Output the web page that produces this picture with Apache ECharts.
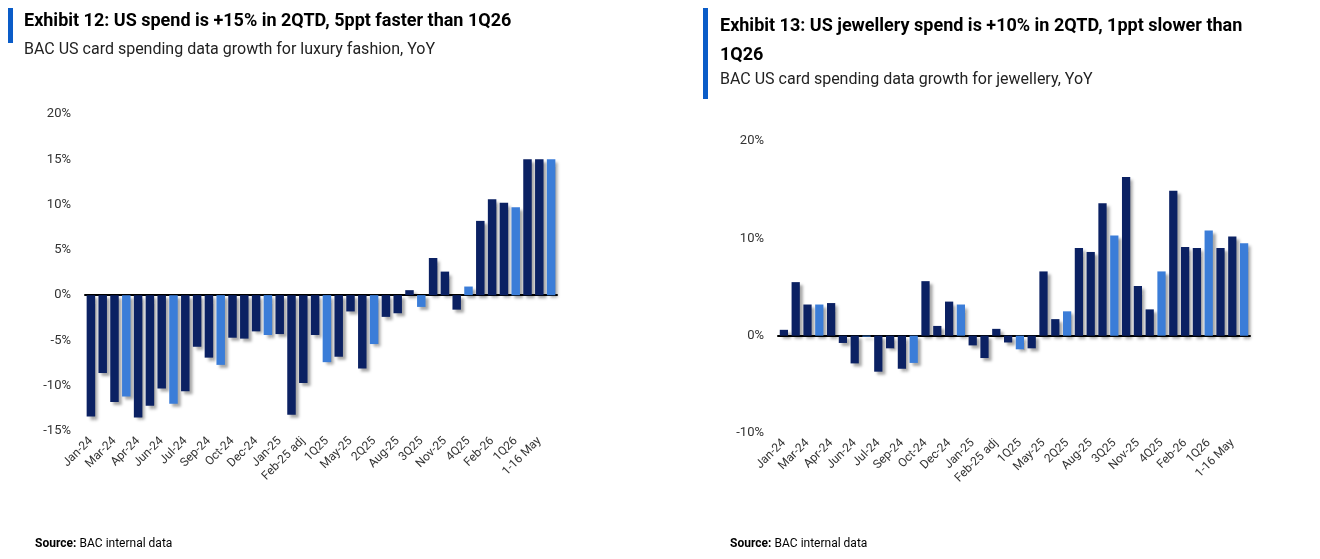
<!DOCTYPE html>
<html>
<head>
<meta charset="utf-8">
<script src="https://cdn.jsdelivr.net/npm/echarts@6/dist/echarts.min.js"></script>
<style>
html, body { margin: 0; padding: 0; background: #fff; }
#main { width: 1320px; height: 559px; }
</style>
</head>
<body>
<div id="main"></div>
<script>
var categories = ["Jan-24", "Feb-24", "Mar-24", "1Q24", "Apr-24", "May-24", "Jun-24", "2Q24",
    "Jul-24", "Aug-24", "Sep-24", "3Q24", "Oct-24", "Nov-24", "Dec-24", "4Q24",
    "Jan-25", "Feb-25", "Feb-25 adj", "Mar-25", "1Q25", "Apr-25", "May-25", "Jun-25", "2Q25",
    "Jul-25", "Aug-25", "Sep-25", "3Q25", "Oct-25", "Nov-25", "Dec-25", "4Q25",
    "Jan-26", "Feb-26", "Mar-26", "1Q26", "Apr-26", "1-16 May", "2QTD"];
// quarterly bars are drawn in the lighter blue
var isQuarter = [0,0,0,1,0,0,0,1, 0,0,0,1,0,0,0,1, 0,0,0,0,1,0,0,0,1, 0,0,0,1,0,0,0,1, 0,0,0,1,0,0,1];
var fashionValues = [-13.4, -8.6, -11.8, -11.2, -13.5, -12.2, -10.3, -12.0,
    -10.6, -5.7, -6.9, -7.7, -4.7, -4.8, -4.0, -4.4,
    -4.3, -13.2, -9.7, -4.4, -7.4, -6.8, -1.8, -8.1, -5.4,
    -2.4, -2.0, 0.55, -1.3, 4.1, 2.6, -1.6, 0.95,
    8.2, 10.6, 10.2, 9.7, 15.0, 15.0, 15.0];
var jewelleryValues = [0.6, 5.5, 3.2, 3.2, 3.35, -0.75, -2.85, -0.1,
    -3.7, -1.3, -3.4, -2.8, 5.6, 1.0, 3.5, 3.2,
    -1.0, -2.3, 0.7, -0.7, -1.4, -1.3, 6.6, 1.7, 2.5,
    9.0, 8.6, 13.6, 10.3, 16.3, 5.1, 2.7, 6.6,
    14.9, 9.1, 9.0, 10.8, 9.0, 10.2, 9.5];

var dark = "#0b2163";
var light = "#3b7dd8";
var font = "Roboto";

function toItems(values) {
    return values.map(function (v, i) {
        return { value: v, itemStyle: { color: isQuarter[i] ? light : dark } };
    });
}

function xAxisFor(idx) {
    return {
        type: "category", gridIndex: idx, data: categories,
        axisLine: { onZero: true, lineStyle: { color: "#000", width: 2 } },
        axisTick: { show: false },
        axisLabel: { interval: 1, rotate: 45, fontFamily: font, fontSize: 12, color: "#333", margin: 8 }
    };
}

function yAxisFor(idx, min, max, step) {
    return {
        type: "value", gridIndex: idx, min: min, max: max, interval: step,
        splitLine: { show: false }, axisLine: { show: false }, axisTick: { show: false },
        axisLabel: { formatter: "{value}%", fontFamily: font, fontSize: 13, color: "#333", margin: 14 }
    };
}

var barStyle = { shadowBlur: 3, shadowOffsetX: 3, shadowOffsetY: 3, shadowColor: "rgba(0,0,0,0.35)" };

var myChart = echarts.init(document.getElementById("main"));
var option = {
    animation: false,
    grid: [
        { left: 85, right: 763, top: 114, bottom: 128 },
        { left: 778, right: 70, top: 141, bottom: 126 }
    ],
    xAxis: [xAxisFor(0), xAxisFor(1)],
    yAxis: [yAxisFor(0, -15, 20, 5), yAxisFor(1, -10, 20, 10)],
    series: [
        { type: "bar", xAxisIndex: 0, yAxisIndex: 0, barCategoryGap: "28%", itemStyle: barStyle, data: toItems(fashionValues) },
        { type: "bar", xAxisIndex: 1, yAxisIndex: 1, barCategoryGap: "30%", itemStyle: barStyle, data: toItems(jewelleryValues) }
    ],
    graphic: [
        { type: "rect", shape: { x: 8, y: 8, width: 5, height: 35 }, style: { fill: "#0a5cc8" } },
        { type: "text", left: 24, top: 12, style: { text: "Exhibit 12: US spend is +15% in 2QTD, 5ppt faster than 1Q26", font: "bold 18px Roboto", fill: "#000" } },
        { type: "text", left: 24, top: 42, style: { text: "BAC US card spending data growth for luxury fashion, YoY", font: "16px Roboto", fill: "#222" } },
        { type: "rect", shape: { x: 703, y: 8, width: 5, height: 91 }, style: { fill: "#0a5cc8" } },
        { type: "text", left: 720, top: 12, style: { text: "Exhibit 13: US jewellery spend is +10% in 2QTD, 1ppt slower than\n1Q26", font: "bold 18px Roboto", lineHeight: 29, fill: "#000" } },
        { type: "text", left: 720, top: 72, style: { text: "BAC US card spending data growth for jewellery, YoY", font: "16px Roboto", fill: "#222" } },
        { type: "text", left: 35, top: 538, style: { rich: { b: { fontWeight: "bold", fontSize: 12, fontFamily: font }, n: { fontSize: 12, fontFamily: font } }, text: "{b|Source:} {n|BAC internal data}" } },
        { type: "text", left: 730, top: 538, style: { rich: { b: { fontWeight: "bold", fontSize: 12, fontFamily: font }, n: { fontSize: 12, fontFamily: font } }, text: "{b|Source:} {n|BAC internal data}" } }
    ]
};
myChart.setOption(option);
</script>
</body>
</html>
